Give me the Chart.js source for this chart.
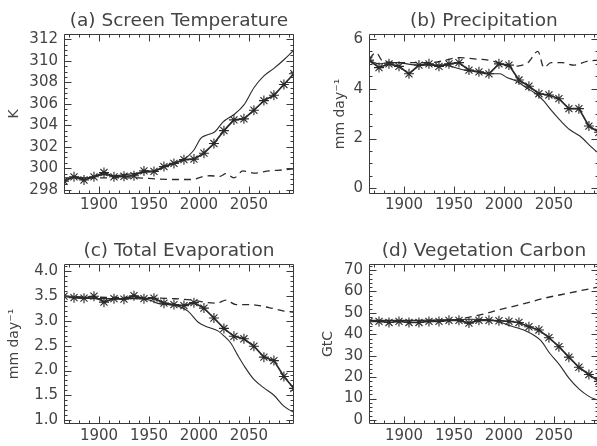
<!DOCTYPE html>
<html><head><meta charset="utf-8">
<script src="https://cdn.jsdelivr.net/npm/chart.js@4.4.0/dist/chart.umd.min.js"></script>
<style>
html,body{margin:0;padding:0;background:#fff;width:597px;height:446px;overflow:hidden;position:relative}
canvas{position:absolute}
</style></head><body>
<canvas id="pa" width="300" height="230" style="left:0px;top:0px"></canvas>
<canvas id="pb" width="300" height="230" style="left:305px;top:0px"></canvas>
<canvas id="pc" width="300" height="230" style="left:0px;top:230px"></canvas>
<canvas id="pd" width="300" height="230" style="left:305px;top:230px"></canvas>
<script>
// ---------- data ----------
const starYears = [1865,1875,1885,1895,1905,1915,1925,1935,1945,1955,1965,1975,1985,1995,2005,2015,2025,2035,2045,2055,2065,2075,2085,2095];
const xTicks = [1900,1950,2000,2050];

const tempTicks = [298,300,302,304,306,308,310,312];
const tempStar = [298.8,299.2,298.9,299.2,299.6,299.2,299.25,299.3,299.75,299.7,300.15,300.45,300.8,300.85,301.4,302.3,303.5,304.5,304.6,305.4,306.3,306.8,307.8,308.8];
const tempSolidYears = [1865,1875,1885,1895,1905,1915,1925,1935,1945,1955,1965,1975,1985,1990,1995,2002,2008,2016,2024,2035,2045,2055,2065,2075,2085,2095];
const tempSolid = [298.8,299.2,299.1,299.2,299.4,299.3,299.4,299.5,299.6,299.7,300.1,300.5,300.8,301.2,301.7,302.8,303.1,303.4,304.3,305.0,305.9,307.5,308.6,309.3,310.1,311.0];
const tempDashYears = [1865,1898,1939,1956,1975,1993,2003,2011,2021,2027,2035,2044,2056,2070,2085,2095];
const tempDash = [299.1,299.1,299.1,299.0,298.95,298.95,299.2,299.3,299.25,299.5,299.1,299.75,299.55,299.75,299.85,299.95];

const precipTicks = [0,2,4,6];
const precipStar = [5.15,4.85,5.0,4.9,4.6,4.95,5.0,4.9,5.0,5.05,4.75,4.68,4.6,5.0,4.95,4.35,4.1,3.8,3.75,3.6,3.2,3.2,2.5,2.25];
const precipSolidYears = [1865,1875,1884,1894,1903,1913,1922,1932,1941,1951,1960,1970,1980,1989,1996,2003,2013,2022,2032,2040,2047,2057,2066,2076,2089,2095];
const precipSolid = [5.15,5.0,5.05,5.05,5.0,4.95,4.95,4.95,4.95,4.85,4.75,4.7,4.62,4.6,4.6,4.45,4.3,4.05,3.8,3.5,3.15,2.7,2.35,2.1,1.6,1.4];
const precipDashYears = [1865,1872,1879,1898,1927,1956,1970,1984,1994,2005,2015,2024,2034,2040,2047,2058,2070,2083,2095];
const precipDash = [5.2,5.45,5.1,5.05,5.05,5.25,5.2,5.15,5.05,4.9,4.92,5.05,5.5,4.85,5.05,5.05,4.95,5.1,5.15];

const evapTicks = [1.0,1.5,2.0,2.5,3.0,3.5,4.0];
const evapStar = [3.5,3.47,3.46,3.5,3.38,3.45,3.44,3.51,3.45,3.46,3.36,3.33,3.31,3.37,3.26,3.06,2.85,2.69,2.64,2.49,2.27,2.2,1.88,1.64];
const evapSolidYears = [1865,1879,1898,1917,1937,1951,1960,1970,1979,1989,1999,2006,2019,2025,2032,2039,2045,2055,2065,2075,2085,2095];
const evapSolid = [3.5,3.47,3.45,3.45,3.45,3.42,3.35,3.33,3.3,3.2,2.98,2.9,2.8,2.7,2.55,2.3,2.1,1.82,1.65,1.5,1.28,1.15];
const evapDashYears = [1865,1898,1946,1975,1994,2005,2018,2027,2037,2051,2070,2085,2095];
const evapDash = [3.5,3.48,3.47,3.45,3.42,3.38,3.36,3.42,3.33,3.33,3.27,3.2,3.18];

const vegTicks = [0,10,20,30,40,50,60,70];
const vegStar = [46,46,45.5,46,45.5,45.5,46,46,46.5,46.5,45.2,46.5,46.5,46.3,46,45.5,43.5,42,38.4,34.2,29.3,24.6,21.2,18];
const vegSolidYears = [1865,1898,1946,1965,1984,1994,2003,2013,2022,2030,2037,2046,2056,2065,2075,2085,2095];
const vegSolid = [46.5,46.5,46.8,47,46.8,46,44.5,43,41.5,39.5,37,31,25.5,19.5,14.5,11,9];
const vegDashYears = [1865,1946,1960,1980,1994,2018,2042,2066,2089,2095];
const vegDash = [46.2,46.5,47.5,49.5,51.3,54,57,59.3,61.5,62];

// ---------- drawing ----------
const FONT = "'DejaVu Sans', sans-serif";
const TXT = '#444';
const INK = '#2a2a2a';

const framePlugin = {
  id: 'frame',
  afterDatasetsDraw(chart, args, o) {
    const {ctx, chartArea: a, scales: {x, y}} = chart;
    ctx.save();
    ctx.strokeStyle = '#3a3a3a';
    ctx.lineWidth = 1;
    ctx.beginPath();
    const L = Math.round(a.left) + 0.5, T = Math.round(a.top) + 0.5;
    const R = Math.round(a.right) - 0.5, B = Math.round(a.bottom) - 0.5;
    ctx.rect(L, T, R - L, B - T);
    for (let v = 1870; v <= x.max; v += 10) {
      const p = Math.round(x.getPixelForValue(v)) + 0.5;
      const len = xTicks.includes(v) ? 7 : 3;
      ctx.moveTo(p, B); ctx.lineTo(p, B - len);
      ctx.moveTo(p, T); ctx.lineTo(p, T + len);
    }
    const st = o.yMinorStep;
    for (let i = Math.ceil(y.min / st - 1e-6); i * st <= y.max + 1e-6; i++) {
      const v = i * st;
      const p = Math.round(y.getPixelForValue(v)) + 0.5;
      const major = o.yTicks.some(t => Math.abs(t - v) < 1e-6);
      const len = major ? 7 : 3;
      ctx.moveTo(L, p); ctx.lineTo(L + len, p);
      ctx.moveTo(R, p); ctx.lineTo(R - len, p);
    }
    ctx.stroke();
    ctx.restore();
  }
};

function pts(xs, ys) { return xs.map((v, i) => ({x: v, y: ys[i]})); }

function panel(id, c) {
  new Chart(document.getElementById(id), {
    type: 'scatter',
    data: {
      datasets: [
        {data: pts(starYears, c.star), showLine: true, borderColor: INK, borderWidth: 1.7,
         pointStyle: 'star', pointRadius: 5, pointBorderColor: INK, pointBorderWidth: 1.1,
         pointBackgroundColor: INK},
        {data: pts(c.solidX, c.solid), showLine: true, borderColor: INK, borderWidth: 1.1,
         pointRadius: 0, cubicInterpolationMode: 'monotone'},
        {data: pts(c.dashX, c.dash), showLine: true, borderColor: INK, borderWidth: 1.3,
         borderDash: [7, 5], pointRadius: 0, cubicInterpolationMode: 'monotone'}
      ]
    },
    options: {
      responsive: false, animation: false, devicePixelRatio: 1,
      layout: {padding: {left: 0, right: 3, top: 0, bottom: 0}},
      plugins: {
        legend: {display: false}, tooltip: {enabled: false},
        title: {display: true, text: c.title, fullSize: false, color: TXT,
                font: {family: FONT, size: 18.5, weight: 'normal'}, padding: {top: 9.6, bottom: 2.2}},
        frame: {yMinorStep: c.yMinorStep, yTicks: c.yTicks}
      },
      scales: {
        x: {
          type: 'linear', min: 1865, max: 2095,
          afterBuildTicks: s => { s.ticks = xTicks.map(v => ({value: v})); },
          afterFit: s => { s.height = 36; },
          grid: {display: false, drawTicks: false}, border: {display: false},
          ticks: {color: TXT, padding: c.xPad, autoSkip: false, maxRotation: 0,
                  font: {family: FONT, size: 15}, callback: v => String(v)}
        },
        y: {
          min: c.yMin, max: c.yMax,
          afterBuildTicks: s => { s.ticks = c.yTicks.map(v => ({value: v})); },
          afterFit: s => { s.width = 64; },
          grid: {display: false, drawTicks: false}, border: {display: false},
          ticks: {color: TXT, padding: 6, autoSkip: false,
                  font: {family: FONT, size: 15}, callback: v => v.toFixed(c.dec)},
          title: {display: true, text: c.yTitle, color: TXT,
                  font: {family: FONT, size: 14}, padding: {top: c.yTitlePad, bottom: 0}}
        }
      }
    },
    plugins: [framePlugin]
  });
}

panel('pa', {title: '(a) Screen Temperature', yTitle: 'K', yTitlePad: 5.6, xPad: 2,
  yMin: 297.6, yMax: 312.5, yTicks: tempTicks, dec: 0, yMinorStep: 0.5,
  star: tempStar, solidX: tempSolidYears, solid: tempSolid, dashX: tempDashYears, dash: tempDash});
panel('pb', {title: '(b) Precipitation', yTitle: 'mm day\u207B\u00B9', yTitlePad: 27, xPad: 2,
  yMin: -0.23, yMax: 6.2, yTicks: precipTicks, dec: 0, yMinorStep: 0.5,
  star: precipStar, solidX: precipSolidYears, solid: precipSolid, dashX: precipDashYears, dash: precipDash});
panel('pc', {title: '(c) Total Evaporation', yTitle: 'mm day\u207B\u00B9', yTitlePad: 6, xPad: 3,
  yMin: 0.92, yMax: 4.15, yTicks: evapTicks, dec: 1, yMinorStep: 0.1,
  star: evapStar, solidX: evapSolidYears, solid: evapSolid, dashX: evapDashYears, dash: evapDash});
panel('pd', {title: '(d) Vegetation Carbon', yTitle: 'GtC', yTitlePad: 15, xPad: 3,
  yMin: -1.9, yMax: 72.8, yTicks: vegTicks, dec: 0, yMinorStep: 2,
  star: vegStar, solidX: vegSolidYears, solid: vegSolid, dashX: vegDashYears, dash: vegDash});
</script>
</body></html>
